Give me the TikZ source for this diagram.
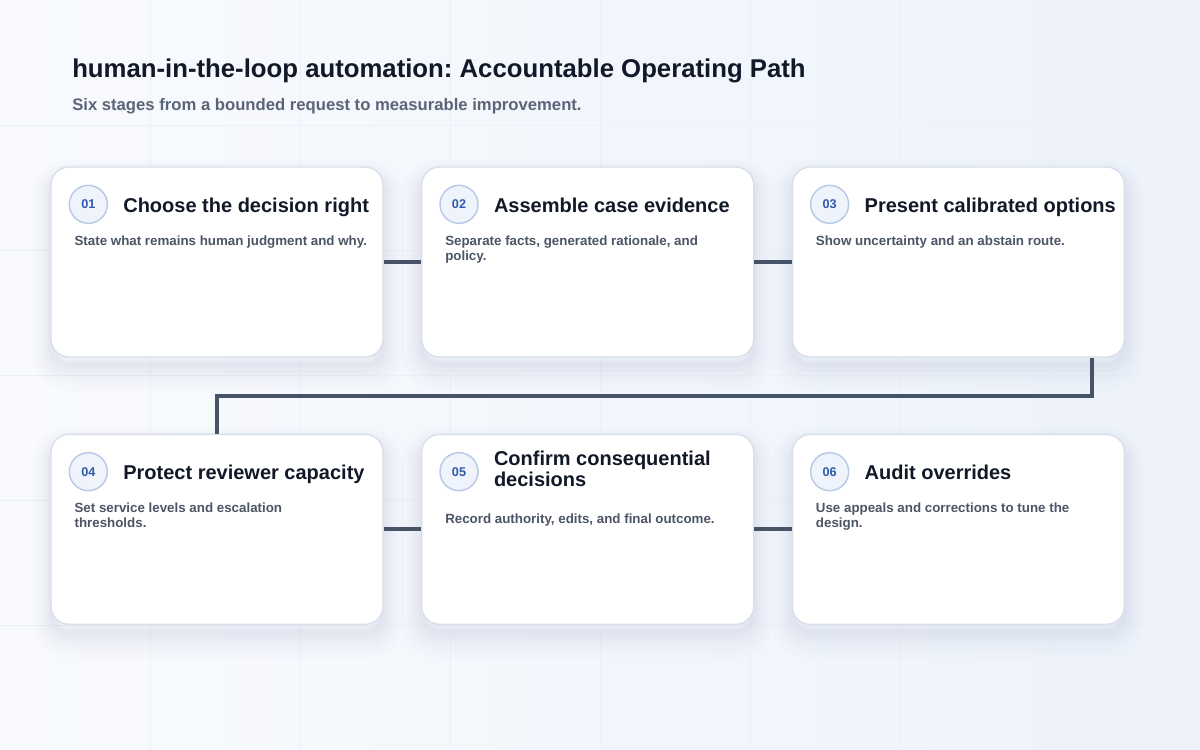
\documentclass[tikz,border=0pt]{standalone}
\usepackage{fontspec}
\setmainfont{Liberation Sans}
\frenchspacing
\usetikzlibrary{positioning,calc}
\definecolor{bgA}{HTML}{F8FAFD}
\definecolor{bgB}{HTML}{EDF2FB}
\definecolor{gridc}{HTML}{EDF0F6}
\definecolor{cardline}{HTML}{D8DFEA}
\definecolor{shadowc}{HTML}{7F8FAE}
\definecolor{ink}{HTML}{111827}
\definecolor{muted}{HTML}{4B5565}
\definecolor{subink}{HTML}{5B6577}
\definecolor{linkc}{HTML}{475467}
\definecolor{badgefill}{HTML}{EEF3FC}
\definecolor{badgeline}{HTML}{B9CAE8}
\definecolor{badgeink}{HTML}{2F5AAA}
\tikzstyle{card} = [draw=cardline, line width=1pt, fill=white, rounded corners=13.5pt, minimum width=249pt, minimum height=142.5pt,
  preaction={draw=shadowc, draw opacity=0.02, line width=30pt, transform canvas={yshift=-10pt}},
  preaction={draw=shadowc, draw opacity=0.025, line width=22pt, transform canvas={yshift=-9pt}},
  preaction={draw=shadowc, draw opacity=0.03, line width=15pt, transform canvas={yshift=-8pt}},
  preaction={draw=shadowc, draw opacity=0.035, line width=9pt, transform canvas={yshift=-7pt}},
  preaction={draw=shadowc, draw opacity=0.04, line width=4pt, transform canvas={yshift=-6pt}}]
\tikzstyle{badge} = [circle, draw=badgeline, line width=1.1pt, fill=badgefill, minimum size=28.5pt, inner sep=0pt, text=badgeink, font=\fontsize{9.5}{9.5}\selectfont\bfseries]
\tikzstyle{stagetitle} = [anchor=base west, inner sep=0pt, align=left, text=ink, font=\fontsize{15}{15.75}\selectfont\bfseries]
\tikzstyle{stagetext} = [anchor=north west, inner sep=0pt, align=left, text=muted, font=\fontsize{10}{11.25}\selectfont\bfseries]
\tikzstyle{link} = [draw=linkc, line width=3pt]

\begin{document}
\begin{tikzpicture}[x=0.75pt, y=-0.75pt]
            \useasboundingbox (0,0) rectangle (1200,750);
            % background
            \fill[left color=bgA, right color=bgB] (0,0) rectangle (1200,750);
            \foreach \gx in {150,300,...,1050} \draw[gridc, line width=0.5pt] (\gx,0) -- (\gx,750);
            \foreach \gy in {125,250,...,625} \draw[gridc, line width=0.5pt] (0,\gy) -- (1200,\gy);

            % heading
            \node[anchor=base west, inner sep=0pt, text=ink, font=\fontsize{19.3}{23}\selectfont\bfseries] (head) at (72,77) {human-in-the-loop automation: Accountable Operating Path};
            \node[anchor=base west, inner sep=0pt, text=subink, font=\fontsize{12.5}{15}\selectfont\bfseries] (sub) at (72,110) {Six stages from a bounded request to measurable improvement.};

            % stage cards
            \node[card] (s1) at (217,262) {};
            \node[card, right=28pt of s1] (s2) {};
            \node[card, right=28pt of s2] (s3) {};
            \node[card, below=57pt of s1] (s4) {};
            \node[card, right=28pt of s4] (s5) {};
            \node[card, right=28pt of s5] (s6) {};

            % numbers
            \node[badge] (b1) at ($(s1.north west)+(38,38)$) {01};
            \node[badge] (b2) at ($(s2.north west)+(38,38)$) {02};
            \node[badge] (b3) at ($(s3.north west)+(38,38)$) {03};
            \node[badge] (b4) at ($(s4.north west)+(38,38)$) {04};
            \node[badge] (b5) at ($(s5.north west)+(38,38)$) {05};
            \node[badge] (b6) at ($(s6.north west)+(38,38)$) {06};

            % stage titles
            \node[stagetitle] (t1) at ($(b1.east)+(15,8)$) {Choose the decision right};
            \node[stagetitle] (t2) at ($(b2.east)+(15,8)$) {Assemble case evidence};
            \node[stagetitle] (t3) at ($(b3.east)+(15,8)$) {Present calibrated options};
            \node[stagetitle] (t4) at ($(b4.east)+(15,8)$) {Protect reviewer capacity};
            \node[stagetitle, anchor=west] (t5) at ($(b5.east)+(15,-3)$) {Confirm consequential\\decisions};
            \node[stagetitle] (t6) at ($(b6.east)+(15,8)$) {Audit overrides};

            % stage notes
            \node[stagetext] (d1) at ($(s1.north west)+(24,69)$) {State what remains human judgment and why.};
            \node[stagetext] (d2) at ($(s2.north west)+(24,69)$) {Separate facts, generated rationale, and\\policy.};
            \node[stagetext] (d3) at ($(s3.north west)+(24,69)$) {Show uncertainty and an abstain route.};
            \node[stagetext] (d4) at ($(s4.north west)+(24,69)$) {Set service levels and escalation\\thresholds.};
            \node[stagetext] (d5) at ($(s5.north west)+(24,80)$) {Record authority, edits, and final outcome.};
            \node[stagetext] (d6) at ($(s6.north west)+(24,69)$) {Use appeals and corrections to tune the\\design.};

            % connectors
            \draw[link] (s1) -- (s2);
            \draw[link] (s2) -- (s3);
            \coordinate (out3) at ($(s3.south east)+(-33,0)$);
            \coordinate (turn) at ($(s3.south)!0.5!(s4.north)$);
            \draw[link] (out3) |- (turn) -| (s4.north);
            \draw[link] (s4) -- (s5);
            \draw[link] (s5) -- (s6);
        \end{tikzpicture}
\end{document}
